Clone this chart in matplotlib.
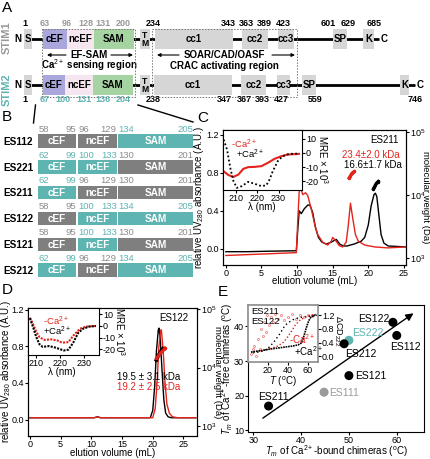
import matplotlib
matplotlib.use('Agg')
import matplotlib.pyplot as plt
import matplotlib.patches as mpatches
from matplotlib.ticker import NullLocator

plt.rcParams['font.family'] = ['Liberation Sans', 'DejaVu Sans']
plt.rcParams['mathtext.fontset'] = 'custom'
plt.rcParams['mathtext.rm'] = 'Liberation Sans'
plt.rcParams['mathtext.it'] = 'Liberation Sans:italic'
plt.rcParams['mathtext.bf'] = 'Liberation Sans:bold'
plt.rcParams['axes.unicode_minus'] = False
plt.rcParams['axes.linewidth'] = 0.8
for a in ('xtick', 'ytick'):
    plt.rcParams[a + '.major.size'] = 2.0
    plt.rcParams[a + '.major.width'] = 0.8
    plt.rcParams[a + '.labelsize'] = 6.5
    plt.rcParams[a + '.major.pad'] = 0.8

# ---------------- DATA ----------------
# Panel A: domain architecture
stim1_domains = ['S', 'cEF', 'ncEF', 'SAM', 'TM', 'cc1', 'cc2', 'cc3', 'SP', 'K']
stim2_domains = ['S', 'cEF', 'ncEF', 'SAM', 'TM', 'cc1', 'cc2', 'cc3', 'SP', 'K']
stim1_residues = ['1', '63', '96', '128', '131', '200', '234', '343', '363', '389', '423', '601', '629', '685']
stim2_residues = ['1', '67', '100', '131', '136', '204', '238', '347', '367', '393', '427', '559', '746']

# Panel B: chimeras
b_names = ['ES112', 'ES221', 'ES211', 'ES122', 'ES121', 'ES212']
b_segments = ['cEF', 'ncEF', 'SAM']
b_stim1_bounds = [(58, 95), (96, 129), (130, 201)]
b_stim2_bounds = [(62, 99), (100, 133), (134, 205)]

# Panel C: ES211 SEC-MALS
c_vol_black = [0, 3, 6, 9.9, 10.1, 10.3, 10.6, 11.0, 11.5, 11.8, 12.2, 12.6, 13.0, 13.5, 14.1, 14.8,
               15.5, 16.0, 16.5, 17.0, 18.0, 19.0, 19.5, 20.0, 20.4, 20.8, 21.0, 21.2, 21.5, 21.8,
               22.2, 22.8, 25.3]
c_abs_black = [-0.03, -0.03, -0.025, -0.02, 0.2, 0.40, 0.37, 0.42, 0.46, 0.46, 0.38, 0.22, 0.12,
               0.07, 0.05, 0.07, 0.10, 0.05, 0.03, 0.03, 0.05, 0.08, 0.12, 0.25, 0.45, 0.57,
               0.585, 0.55, 0.35, 0.15, 0.06, 0.03, 0.02]
c_vol_red = [0, 5, 9.9, 10.1, 10.3, 10.5, 10.8, 11.2, 11.5, 12.0, 12.5, 12.9, 13.6, 14.3, 14.8,
             15.0, 15.5, 15.9, 16.4, 16.9, 17.2, 17.5, 17.8, 18.2, 18.6, 19.5, 20.9, 22.7, 25.3]
c_abs_red = [-0.07, -0.055, -0.04, 0.3, 0.6, 0.64, 0.57, 0.59, 0.56, 0.42, 0.25, 0.15, 0.07, 0.04,
             0.08, 0.12, 0.08, 0.035, 0.02, 0.07, 0.25, 0.48, 0.33, 0.15, 0.08, 0.04, 0.02, 0.01, 0.02]
c_mw_vol_red = [17.27, 17.45, 17.6, 17.75, 17.9, 18.05]
c_mw_red = [18500, 20000, 21500, 22500, 23200, 23600]
c_mw_vol_black = [20.7, 20.85, 21.0, 21.15, 21.3, 21.4]
c_mw_black = [12500, 13500, 14500, 15400, 16100, 16500]
c_cd_nm_red = [204.3, 206.6, 208.9, 211.2, 213.5, 215.8, 218.9, 222.0, 225.0, 228.1, 231.2, 234.2, 239.6]
c_cd_mre_red = [-12.9, -15.6, -16.8, -15.2, -11.2, -10.0, -9.8, -9.3, -7.0, -4.2, -2.4, -1.2, -0.7]
c_cd_nm_black = [204.3, 205.9, 207.4, 208.9, 210.5, 212.8, 215.8, 218.9, 222.0, 224.3, 225.8, 227.3,
                 229.6, 231.9, 235.0, 239.6]
c_cd_mre_black = [9.3, 2.3, -10.5, -19.8, -24.5, -23.3, -20.3, -21.7, -23.3, -22.7, -18.7, -12.9,
                  -5.9, -2.4, -0.7, -0.5]

# Panel D: ES122 SEC-MALS
d_vol_black = [0, 5, 10.5, 11.0, 11.5, 15, 19.6, 20.0, 20.3, 20.6, 20.9, 21.0, 21.2, 21.5, 21.8,
               22.1, 22.5, 23.0, 27]
d_abs_black = [0.02, 0.02, 0.02, 0.03, 0.02, 0.02, 0.02, 0.1, 0.35, 0.75, 0.98, 1.0, 0.9, 0.55,
               0.22, 0.07, 0.03, 0.02, 0.02]
d_vol_red = [0, 5, 10.5, 11.0, 11.5, 15, 20.0, 20.4, 20.7, 21.0, 21.3, 21.4, 21.7, 22.0, 22.3,
             22.7, 23.2, 24.0, 27]
d_abs_red = [0.02, 0.02, 0.02, 0.03, 0.02, 0.02, 0.02, 0.12, 0.4, 0.8, 0.98, 0.98, 0.75, 0.4, 0.17,
             0.07, 0.03, 0.02, 0.02]
d_mw_vol_black = [20.5, 20.7, 20.9, 21.1, 21.3, 21.6]
d_mw_black = [13500, 15000, 16500, 18000, 19500, 21400]
d_mw_vol_red = [20.6, 20.9, 21.2, 21.5, 21.8, 22.0]
d_mw_red = [14500, 16000, 17500, 19000, 20500, 21800]
d_cd_nm_red = [207.3, 208.7, 210.0, 211.3, 213.4, 216.1, 218.9, 220.9, 223.6, 225.6, 228.4, 231.1, 235.2]
d_cd_mre_red = [7.2, 1.2, -4.8, -9.6, -12.0, -11.5, -12.5, -14.4, -13.9, -8.4, -2.4, -0.5, 0.0]
d_cd_nm_black = [207.3, 208.7, 210.0, 211.3, 212.7, 215.4, 218.2, 221.6, 223.6, 225.6, 227.7, 229.7,
                 232.4, 235.2]
d_cd_mre_black = [6.7, -1.2, -9.6, -15.6, -18.0, -17.3, -18.7, -21.1, -20.4, -14.4, -6.0, -2.4, -0.5, 0.0]

# Panel E: melting temperatures
e_names = ['ES122', 'ES112', 'ES222', 'ES212', 'ES121', 'ES111', 'ES211']
e_tm_bound = [59.2, 60.0, 50.0, 49.0, 50.0, 44.8, 33.2]
e_tm_free = [41.2, 37.4, 36.0, 35.0, 25.8, 21.0, 17.0]
e_arrow_from = (32.0, 13.5)
e_arrow_to = (63.5, 43.8)
# inset: thermal melts (delta CD222)
ei_T_211_ca = [5, 10, 15, 20, 22, 25, 28, 31, 34, 37, 40, 45, 50, 55, 60, 65, 68]
ei_v_211_ca = [0.10, 0.12, 0.15, 0.22, 0.30, 0.38, 0.50, 0.62, 0.76, 0.90, 0.98, 1.07, 1.12, 1.15, 1.17, 1.18, 1.18]
ei_T_211_free = [3, 5, 6, 8, 10, 12, 13, 15, 16, 18, 19, 21, 23, 25, 27, 30, 33, 36, 40, 44, 48, 52, 56, 60, 64]
ei_v_211_free = [0.05, 0.20, 0.30, 0.00, 0.50, 0.20, 0.80, 0.60, 1.00, 0.70, 1.20, 0.90, 1.15, 1.00,
                 1.25, 1.10, 1.20, 1.05, 1.15, 1.25, 1.10, 1.20, 1.15, 1.22, 1.18]
ei_T_122_free = [5, 10, 15, 20, 25, 30, 35, 38, 41, 44, 47, 50, 53, 56, 60, 65, 68]
ei_v_122_free = [0.12, 0.15, 0.18, 0.20, 0.25, 0.30, 0.40, 0.50, 0.62, 0.75, 0.90, 1.00, 1.08, 1.12, 1.18, 1.22, 1.22]
ei_T_122_ca = [3, 10, 15, 20, 25, 30, 35, 40, 45, 50, 53, 55, 57, 59, 61, 63, 66, 69]
ei_v_122_ca = [0.12, 0.15, 0.17, 0.20, 0.22, 0.24, 0.26, 0.28, 0.30, 0.33, 0.38, 0.50, 0.70, 0.90, 1.05, 1.15, 1.20, 1.20]

# ---------------- STYLE ----------------
GRAYBOX = '#d6d6d6'
LAV = '#aaa7dc'
PINK = '#f6e6ef'
GREEN = '#a5d4a2'
TEAL = '#5db4b1'
DGRAY = '#7f7f7f'
NUMGRAY = '#999999'
RED = '#e3241d'
dom_colors = {'S': GRAYBOX, 'cEF': LAV, 'ncEF': PINK, 'SAM': GREEN, 'TM': GRAYBOX,
              'cc1': GRAYBOX, 'cc2': GRAYBOX, 'cc3': GRAYBOX, 'SP': GRAYBOX, 'K': GRAYBOX}
FS_LAB = 7      # axis labels
FS_TXT = 7      # annotations

W, H = 431, 459
fig = plt.figure(figsize=(W / 100, H / 100), dpi=100)


def ax_px(l, t, r, b):
    return fig.add_axes([l / W, 1 - b / H, (r - l) / W, (b - t) / H])


def place_labels(ax, l, t, r, b, ylab_right=None, xlab_top=None):
    """position axis labels at pixel positions (edges of text)"""
    if ylab_right is not None:
        ax.yaxis.set_label_coords((ylab_right - l) / (r - l), 0.5)
    if xlab_top is not None:
        ax.xaxis.set_label_coords(0.5, -(xlab_top - b) / (b - t))


ov = fig.add_axes([0, 0, 1, 1])
ov.set_xlim(0, W)
ov.set_ylim(H, 0)
ov.axis('off')
ov.set_zorder(20)

# panel letters
for lab, (x, y) in {'A': (2, 8), 'B': (2, 117), 'C': (197, 118), 'D': (2, 290), 'E': (218, 292)}.items():
    ov.text(x, y, lab, fontsize=11, va='center', ha='left')

# ---------------- PANEL A ----------------
rows = [
    dict(label='STIM1', lc=NUMGRAY, top=29, doms=stim1_domains,
         dx=[(24, 32), (43, 67), (67, 94), (94, 134), (140, 150), (155, 233), (242, 268), (278, 294),
             (333, 347), (363, 374)],
         nums=stim1_residues, numcol=NUMGRAY, numy=24,
         nx=[25, 45, 67, 86, 103, 123, 153, 228, 246, 264, 283, 328, 348, 374], cx=384, lend=379),
    dict(label='STIM2', lc=TEAL, top=75, doms=stim2_domains,
         dx=[(24, 32), (43, 65), (65, 93), (93, 133), (140, 150), (154, 232), (241, 266), (277, 290),
             (302, 316), (400, 409)],
         nums=stim2_residues, numcol=TEAL, numy=100,
         nx=[25, 45, 63, 84, 103, 123, 153, 224, 244, 262, 281, 315, 415], cx=420, lend=415),
]
for r in rows:
    yc = r['top'] + 10
    ov.plot([28, r['lend']], [yc, yc], color='k', lw=2, zorder=1, solid_capstyle='butt')
    for d, (x0, x1) in zip(r['doms'], r['dx']):
        ov.add_patch(mpatches.Rectangle((x0, r['top']), x1 - x0, 20, facecolor=dom_colors[d],
                                        edgecolor='none', zorder=2))
        txt = 'T\nM' if d == 'TM' else d
        ov.text((x0 + x1) / 2, yc + 0.5, txt, ha='center', va='center', fontsize=6.2 if d == 'TM' else 7,
                fontweight='bold', linespacing=0.8, zorder=3)
    ov.text(18, yc, 'N', ha='center', va='center', fontsize=7, fontweight='bold')
    ov.text(r['cx'], yc, 'C', ha='center', va='center', fontsize=7, fontweight='bold')
    for k, (n, x) in enumerate(zip(r['nums'], r['nx'])):
        col = r['numcol'] if 1 <= k <= 5 else 'k'
        ov.text(x, r['numy'], n, ha='center', va='center', fontsize=6.5, fontweight='bold', color=col)
    ov.text(7, yc + (-1 if r['label'] == 'STIM1' else 5), r['label'], rotation=90, ha='center', va='center',
            fontsize=8, fontweight='bold', color=r['lc'])

for (x0, x1) in [(42, 135), (152, 297)]:
    ov.add_patch(mpatches.Rectangle((x0, 29), x1 - x0, 67.5, facecolor='none', edgecolor='#777777',
                                    lw=0.7, ls=(0, (1.5, 1.5)), zorder=4))
ov.text(89, 55, 'EF-SAM', ha='center', va='center', fontsize=7, fontweight='bold')
ov.text(89, 65.5, 'Ca$^{2+}$ sensing region', ha='center', va='center', fontsize=7, fontweight='bold')
ov.text(224, 54.5, 'SOAR/CAD/OASF', ha='center', va='center', fontsize=7, fontweight='bold')
ov.text(224, 66, 'CRAC activating region', ha='center', va='center', fontsize=7, fontweight='bold')
for (xa, xb, y) in [(66, 47, 55), (111, 133, 55), (179, 157, 55), (272, 295, 55)]:
    ov.annotate('', xy=(xb, y), xytext=(xa, y),
                arrowprops=dict(arrowstyle='-|>', lw=0.8, color='k', mutation_scale=5,
                                shrinkA=0, shrinkB=0))

# connectors A -> B
ov.plot([35.5, 33.5], [105, 123], color='k', lw=1)
ov.plot([138, 193], [105, 122], color='k', lw=1)

# ---------------- PANEL B ----------------
b_box_x = [(38.3, 76), (78.3, 116.7), (118.3, 193)]
for i, name in enumerate(b_names):
    top = 134.3 + 25.8 * i
    ov.text(3, top + 7.5, name, ha='left', va='center', fontsize=7.2, fontweight='bold')
    for j, seg in enumerate(b_segments):
        src = name[2 + j]
        lo, hi = (b_stim1_bounds if src == '1' else b_stim2_bounds)[j]
        boxc = DGRAY if src == '1' else TEAL
        numc = '#8c8c8c' if src == '1' else TEAL
        x0, x1 = b_box_x[j]
        ov.add_patch(mpatches.Rectangle((x0, top), x1 - x0, 13.5, facecolor=boxc, edgecolor='none'))
        ov.text((x0 + x1) / 2, top + 7, seg, ha='center', va='center', fontsize=7.2, fontweight='bold',
                color='white')
        ov.text(x0, top - 5, str(lo), ha='left', va='center', fontsize=6.8, color=numc)
        ov.text(x1, top - 5, str(hi), ha='right', va='center', fontsize=6.8, color=numc)


# ---------------- helpers ----------------
def style_mw(ax2, lo, hi, l, r, right_edge):
    ax2.set_yscale('log')
    ax2.set_ylim(10 ** lo, 10 ** hi)
    ax2.set_yticks([1e3, 1e4, 1e5])
    ax2.set_yticklabels(['10$^3$', '10$^4$', '10$^5$'])
    ax2.yaxis.set_minor_locator(NullLocator())
    ax2.set_ylabel('molecular weight (Da)', rotation=-90, fontsize=6.8)
    ax2.yaxis.set_label_coords((right_edge - l) / (r - l), 0.5)


def style_cd(ai, xl, yl, l, r, right_edge):
    ai.set_xlim(*xl)
    ai.set_ylim(*yl)
    ai.set_xticks([210, 220, 230])
    ai.yaxis.tick_right()
    ai.yaxis.set_label_position('right')
    ai.set_yticks([10, 0, -10, -20])
    ai.set_yticklabels(['10', '0', '-10', '-20'])
    ai.set_ylabel('MRE × 10$^3$', rotation=-90, fontsize=FS_LAB)
    ai.yaxis.set_label_coords((right_edge - l) / (r - l), 0.5)


def style_main(ax, xl, yl):
    ax.set_xlim(*xl)
    ax.set_ylim(*yl)
    ax.set_xticks([0, 5, 10, 15, 20, 25])
    ax.set_yticks([0, 0.4, 0.8, 1.2])
    ax.set_yticklabels(['0.0', '0.4', '0.8', '1.2'])
    ax.set_xlabel('elution volume (mL)', fontsize=FS_LAB)
    ax.set_ylabel('relative UV$_{280}$ absorbance (A.U.)', fontsize=FS_LAB)


# ---------------- PANEL C ----------------
C_BOX = (223, 130, 406, 265)
axc = ax_px(*C_BOX)
axc.plot(c_vol_black, c_abs_black, color='k', lw=1)
axc.plot(c_vol_red, c_abs_red, color=RED, lw=1)
style_main(axc, (-0.4, 25.3), (-0.17, 1.25))
place_labels(axc, *C_BOX, ylab_right=206.5, xlab_top=276)
axc2 = axc.twinx()
axc2.plot(c_mw_vol_red, c_mw_red, color=RED, lw=2, marker='o', ms=1.5)
axc2.plot(c_mw_vol_black, c_mw_black, color='k', lw=2, marker='o', ms=1.5)
style_mw(axc2, 2.89, 5.03, 223, 406, 430.5)
CI_BOX = (223, 130, 302, 190)
axci = ax_px(*CI_BOX)
axci.plot(c_cd_nm_red, c_cd_mre_red, color=RED, lw=1.5)
axci.plot(c_cd_nm_black, c_cd_mre_black, color='k', lw=1.3, ls=(0, (1, 1.3)))
style_cd(axci, (204, 241), (-26, 16), 223, 302, 330)
ov.text(262, 207, 'λ (nm)', ha='center', va='center', fontsize=FS_TXT)
ov.text(231, 144.5, '-Ca$^{2+}$', color=RED, fontsize=6.8, va='center')
ov.text(236, 154, '+Ca$^{2+}$', color='k', fontsize=6.8, va='center')
ov.text(399, 140, 'ES211', ha='right', va='center', fontsize=FS_TXT)
ov.text(400, 155, '23.4±2.0 kDa', ha='right', va='center', fontsize=FS_TXT, color=RED)
ov.text(402, 165.5, '16.6±1.7 kDa', ha='right', va='center', fontsize=FS_TXT, color='k')

# ---------------- PANEL D ----------------
D_BOX = (28, 308, 197, 436)
axd = ax_px(*D_BOX)
axd.plot(d_vol_black, d_abs_black, color='k', lw=1)
axd.plot(d_vol_red, d_abs_red, color=RED, lw=1)
style_main(axd, (-0.3, 27.2), (-0.18, 1.22))
place_labels(axd, *D_BOX, ylab_right=13.5, xlab_top=447.5)
axd2 = axd.twinx()
axd2.plot(d_mw_vol_black, d_mw_black, color='k', lw=2, marker='o', ms=1.5)
axd2.plot(d_mw_vol_red, d_mw_red, color=RED, lw=2, marker='o', ms=1.5)
style_mw(axd2, 2.83, 5.02, 28, 197, 222)
axdi = ax_px(28, 308, 99, 355)
axdi.plot(d_cd_nm_red, d_cd_mre_red, color=RED, lw=1.5, ls=(0, (1, 0.6)))
axdi.plot(d_cd_nm_black, d_cd_mre_black, color='k', lw=1.5, ls=(0, (1, 0.6)))
style_cd(axdi, (206.5, 236.5), (-25, 15.5), 28, 99, 127)
ov.text(62, 372, 'λ (nm)', ha='center', va='center', fontsize=FS_TXT)
ov.text(43, 321.5, '-Ca$^{2+}$', color=RED, fontsize=6.8, va='center')
ov.text(43, 331.5, '+Ca$^{2+}$', color='k', fontsize=6.8, va='center')
ov.text(174, 318, 'ES122', ha='center', va='center', fontsize=FS_TXT)
ov.text(117, 377, '19.5 ± 3.1 kDa', ha='left', va='center', fontsize=FS_TXT, color='k')
ov.text(117, 387.5, '19.2 ± 2.5 kDa', ha='left', va='center', fontsize=FS_TXT, color=RED)

# ---------------- PANEL E ----------------
E_BOX = (248, 305, 424, 432)
axe = ax_px(*E_BOX)
e_cols = [TEAL if n == 'ES222' else ('#9a9a9a' if n == 'ES111' else 'k') for n in e_names]
axe.scatter(e_tm_bound, e_tm_free, s=42, c=e_cols, zorder=3, edgecolors='none')
axe.annotate('', xy=e_arrow_to, xytext=e_arrow_from,
             arrowprops=dict(arrowstyle='-|>', lw=1, color='k', mutation_scale=11, shrinkA=0, shrinkB=0))
axe.set_xlim(28.9, 65.7)
axe.set_ylim(9.5, 46.2)
axe.set_xticks([30, 40, 50, 60])
axe.set_yticks([10, 20, 30, 40])
axe.set_xlabel('$T_m$ of Ca$^{2+}$-bound chimeras ($^{\\rm o}$C)', fontsize=FS_LAB)
axe.set_ylabel('$T_m$ of Ca$^{2+}$-free chimeras ($^{\\rm o}$C)', fontsize=FS_LAB)
place_labels(axe, *E_BOX, ylab_right=235.5, xlab_top=443.5)
e_lab_pos = {'ES122': (390, 319, 'right'), 'ES112': (405, 347, 'center'), 'ES222': (352, 333, 'left'),
             'ES212': (345, 354, 'left'), 'ES121': (355, 376, 'left'), 'ES111': (329, 393, 'left'),
             'ES211': (273, 397, 'center')}
for n, c in zip(e_names, e_cols):
    x, y, ha = e_lab_pos[n]
    ov.text(x, y, n, ha=ha, va='center', fontsize=7.5, color=c)

EI_BOX = (248, 305, 318, 362)
axei = ax_px(*EI_BOX)
axei.plot(ei_T_211_free, ei_v_211_free, ls='none', marker='s', ms=1.2, mfc='none', mec=RED, mew=0.5, alpha=0.7)
axei.plot(ei_T_211_ca, ei_v_211_ca, color='k', lw=1, ls=(0, (1, 2)))
axei.plot(ei_T_122_free, ei_v_122_free, color=RED, lw=1, ls=(0, (1, 1.5)))
axei.plot(ei_T_122_ca, ei_v_122_ca, color='k', lw=1.2, ls=(0, (1, 0.5)))
axei.set_xlim(0, 70)
axei.set_ylim(-0.17, 1.5)
axei.set_xticks([20, 40, 60])
axei.yaxis.tick_right()
axei.yaxis.set_label_position('right')
axei.set_yticks([0, 0.4, 0.8, 1.2])
axei.set_yticklabels(['0.0', '0.4', '0.8', '1.2'])
axei.set_ylabel('ΔCD$_{222}$', rotation=-90, fontsize=6.5)
axei.yaxis.set_label_coords((344 - 248) / 70, 0.55)
axei.set_xlabel('$T$ ($^{\\rm o}$C)', fontsize=FS_LAB)
place_labels(axei, *EI_BOX, xlab_top=375)
for sp in axei.spines.values():
    sp.set_color('#8c8c8c')
    sp.set_linewidth(1.2)
ov.text(251, 311, 'ES211', fontsize=6.8, va='center')
ov.text(251, 321, 'ES122', fontsize=6.8, va='center')
ov.text(289, 339, '-Ca$^{2+}$', color=RED, fontsize=FS_TXT, va='center')
ov.text(294, 351, '+Ca$^{2+}$', color='k', fontsize=FS_TXT, va='center')

fig.savefig('out.png', dpi=100)
